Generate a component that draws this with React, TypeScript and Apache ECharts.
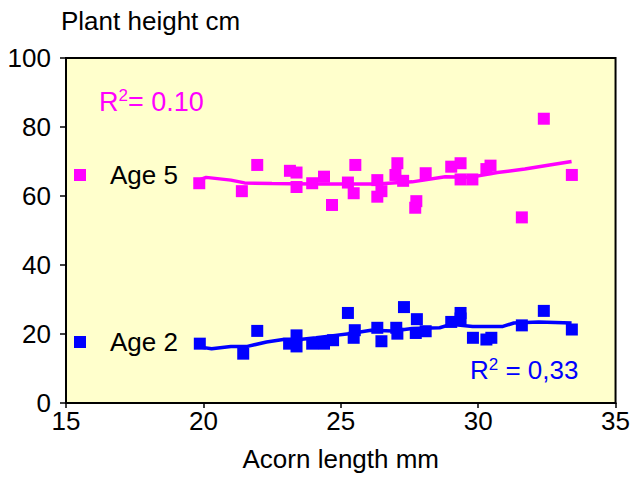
import React, { useEffect, useRef } from "react";
import * as echarts from "echarts";

const FONT = "'Liberation Sans', Arial, Helvetica, sans-serif";

// Age 5 observations: [acorn length mm, plant height cm]
const age5Points: number[][] = [
  [19.85, 63.7], [21.4, 61.4], [21.96, 69.0], [23.15, 67.3], [23.39, 66.8],
  [23.39, 62.6], [23.96, 63.7], [24.39, 65.6], [24.68, 57.4], [25.26, 63.9],
  [25.47, 60.8], [25.53, 69.0], [26.33, 64.6], [26.33, 59.8], [26.48, 61.4],
  [27.06, 69.5], [26.99, 66.1], [27.27, 64.4], [28.09, 66.6], [27.75, 58.5],
  [27.71, 56.6], [29.02, 68.5], [29.36, 69.5], [29.36, 64.8], [29.79, 64.8],
  [30.3, 67.8], [30.45, 68.8], [31.59, 53.8], [32.39, 82.4], [33.41, 66.1],
];

// Age 2 observations
const age2Points: number[][] = [
  [19.87, 17.2], [21.45, 14.3], [21.96, 20.9], [23.12, 17.2], [23.39, 19.6],
  [23.39, 16.4], [23.96, 17.2], [24.39, 17.2], [24.72, 18.2], [25.26, 26.1],
  [25.51, 21.1], [25.47, 18.9], [26.33, 21.8], [26.48, 17.9], [27.02, 21.8],
  [27.06, 20.1], [27.3, 27.8], [27.77, 24.3], [27.73, 20.3], [28.09, 20.8],
  [29.02, 23.5], [29.36, 26.1], [29.36, 24.5], [29.81, 18.9], [30.3, 18.4],
  [30.48, 18.9], [31.59, 22.5], [32.39, 26.7], [33.41, 21.3],
];

// Trend lines (as drawn)
const age5Trend: number[][] = [
  [19.9, 64.8], [20.1, 65.4], [21.0, 64.6], [21.5, 63.8], [22.5, 63.6],
  [24.0, 63.5], [25.0, 63.5], [26.3, 63.5], [27.6, 64.1], [28.8, 65.6],
  [29.7, 65.4], [30.7, 66.8], [31.7, 67.8], [32.6, 69.0], [33.4, 70.0],
];
const age2Trend: number[][] = [
  [19.9, 16.2], [20.3, 15.7], [21.0, 16.4], [21.6, 16.4], [22.3, 17.7],
  [22.9, 18.4], [23.5, 18.4], [24.1, 18.9], [24.8, 19.6], [25.3, 20.1],
  [26.1, 21.1], [26.9, 20.9], [27.6, 21.6], [28.6, 21.8], [29.0, 22.8],
  [29.8, 22.2], [30.9, 22.2], [31.3, 23.2], [32.2, 23.5], [33.4, 23.2],
];

const xTicks = { min: 15, max: 35, interval: 5 };
const yTicks = { min: 0, max: 100, interval: 20 };

const MAGENTA = "#FF00FF";
const BLUE = "#0000FF";

export default function App() {
  const ref = useRef<HTMLDivElement>(null);

  useEffect(() => {
    if (!ref.current) return;
    const chart = echarts.init(ref.current, null, { renderer: "svg" });

    const legendBase = {
      orient: "horizontal",
      left: 74,
      padding: 0,
      icon: "rect",
      itemWidth: 12,
      itemHeight: 12,
      selectedMode: false,
      textStyle: {
        fontFamily: FONT,
        fontSize: 26,
        color: "#000",
        padding: [0, 0, 0, 19],
        lineHeight: 26,
      },
    };

    chart.setOption({
      animation: false,
      backgroundColor: "#FFFFFF",
      textStyle: { fontFamily: FONT },
      grid: {
        left: 66,
        top: 58,
        right: 16,
        bottom: 76,
        show: true,
        backgroundColor: "#FFFFCC",
        borderColor: "#000",
        borderWidth: 2,
      },
      legend: [
        { ...legendBase, top: 162, data: ["Age 5"] },
        { ...legendBase, top: 329, data: ["Age 2"] },
      ],
      xAxis: {
        type: "value",
        min: xTicks.min,
        max: xTicks.max,
        interval: xTicks.interval,
        name: "Acorn length mm",
        nameLocation: "middle",
        nameGap: 43,
        nameTextStyle: { fontFamily: FONT, fontSize: 26, color: "#000" },
        axisLine: { show: true, lineStyle: { color: "#000", width: 2 } },
        axisTick: { show: true, length: 5, lineStyle: { color: "#000", width: 1.5 } },
        axisLabel: { fontFamily: FONT, fontSize: 26, color: "#000", margin: 5 },
        splitLine: { show: false },
      },
      yAxis: {
        type: "value",
        min: yTicks.min,
        max: yTicks.max,
        interval: yTicks.interval,
        axisLine: { show: true, lineStyle: { color: "#000", width: 2 } },
        axisTick: { show: true, length: 6, lineStyle: { color: "#000", width: 1.5 } },
        axisLabel: { fontFamily: FONT, fontSize: 26, color: "#000", margin: 15 },
        splitLine: { show: false },
      },
      graphic: [
        {
          type: "text",
          left: 61,
          top: 8,
          style: { text: "Plant height cm", fontFamily: FONT, fontSize: 26, fill: "#000" },
        },
        {
          type: "text",
          left: 99,
          top: 87,
          style: {
            text: "{a|R}{b|2}{a|= 0.10}",
            fontFamily: FONT,
            rich: {
              a: { fontFamily: FONT, fontSize: 27, fill: MAGENTA, color: MAGENTA, lineHeight: 29 },
              b: { fontFamily: FONT, fontSize: 17, fill: MAGENTA, color: MAGENTA, verticalAlign: "top", lineHeight: 29, padding: [0, 0, 8, 0] },
            },
          },
        },
        {
          type: "text",
          left: 470,
          top: 356,
          style: {
            text: "{a|R}{b|2}{a| = 0,33}",
            fontFamily: FONT,
            rich: {
              a: { fontFamily: FONT, fontSize: 26, fill: BLUE, color: BLUE, lineHeight: 28 },
              b: { fontFamily: FONT, fontSize: 17, fill: BLUE, color: BLUE, verticalAlign: "top", lineHeight: 28, padding: [0, 0, 8, 0] },
            },
          },
        },
      ],
      series: [
        {
          name: "Age 5",
          type: "scatter",
          symbol: "rect",
          symbolSize: 12,
          itemStyle: { color: MAGENTA, opacity: 1 },
          data: age5Points,
          z: 3,
        },
        {
          name: "Age 2",
          type: "scatter",
          symbol: "rect",
          symbolSize: 12,
          itemStyle: { color: BLUE, opacity: 1 },
          data: age2Points,
          z: 3,
        },
        {
          name: "Age 5 trend",
          type: "line",
          showSymbol: false,
          symbol: "none",
          lineStyle: { color: MAGENTA, width: 3.5 },
          data: age5Trend,
          z: 4,
        },
        {
          name: "Age 2 trend",
          type: "line",
          showSymbol: false,
          symbol: "none",
          lineStyle: { color: BLUE, width: 3.5 },
          data: age2Trend,
          z: 4,
        },
      ],
    });

    return () => chart.dispose();
  }, []);

  return (
    <div
      ref={ref}
      style={{ position: "fixed", left: 0, top: 0, width: 633, height: 479 }}
    />
  );
}
